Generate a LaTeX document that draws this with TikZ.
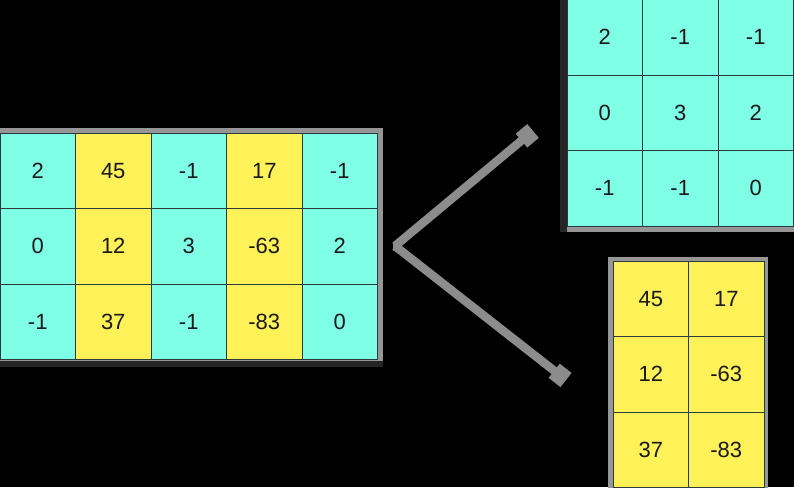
\documentclass[tikz,border=0pt]{standalone}
\usepackage{fontspec}
\setmainfont{Liberation Sans}
\usetikzlibrary{arrows.meta}
\definecolor{cyanc}{RGB}{127,255,230}
\definecolor{yellc}{RGB}{255,241,88}
\definecolor{gridl}{RGB}{40,60,60}
\definecolor{framec}{RGB}{150,150,150}
\definecolor{shadowc}{RGB}{38,38,38}
\definecolor{arrowc}{RGB}{140,140,140}
\definecolor{txtc}{RGB}{25,25,25}
\tikzset{
  cell/.style={draw=gridl, line width=1pt, minimum width=75.5pt, minimum height=75.5pt,
    inner sep=0pt, outer sep=0pt, text=txtc, font=\fontsize{22}{26}\selectfont},
  cyancell/.style={cell, fill=cyanc},
  yellcell/.style={cell, fill=yellc},
  link/.style={draw=arrowc, line width=8.5pt, line cap=butt, -{Square[length=15pt,width=18pt]}}
}
\begin{document}
\begin{tikzpicture}[x=1pt,y=-1pt]
\useasboundingbox[fill=black] (0,0) rectangle (794,487);
% frames
\fill[shadowc] (0,128) rectangle (383,367);
\fill[framec] (0,128) rectangle (383,361);
\fill[shadowc] (560,-5) rectangle (800,232);
\fill[framec] (567,-5) rectangle (800,232);
\fill[framec] (608,257) rectangle (768,495);
% left grid
\foreach \a/\b/\c/\d/\e [count=\j from 0] in {2/45/-1/17/-1, 0/12/3/-63/2, -1/37/-1/-83/0}{
  \node[cyancell] (L-\j-0) at (37.75, 133+37.75+75.5*\j) {\a};
  \node[yellcell] (L-\j-1) at (37.75+75.5, 133+37.75+75.5*\j) {\b};
  \node[cyancell] (L-\j-2) at (37.75+151, 133+37.75+75.5*\j) {\c};
  \node[yellcell] (L-\j-3) at (37.75+226.5, 133+37.75+75.5*\j) {\d};
  \node[cyancell] (L-\j-4) at (37.75+302, 133+37.75+75.5*\j) {\e};
}
% top right grid
\foreach \a/\b/\c [count=\j from 0] in {2/-1/-1, 0/3/2, -1/-1/0}{
  \node[cyancell] (T-\j-0) at (567+37.75, 37.75+75.5*\j-0.5) {\a};
  \node[cyancell] (T-\j-1) at (567+113.25, 37.75+75.5*\j-0.5) {\b};
  \node[cyancell] (T-\j-2) at (567+188.75, 37.75+75.5*\j-0.5) {\c};
}
% bottom grid
\foreach \a/\b [count=\j from 0] in {45/17, 12/-63, 37/-83}{
  \node[yellcell] (B-\j-0) at (613+37.75, 261+37.75+75.5*\j) {\a};
  \node[yellcell] (B-\j-1) at (613+113.25, 261+37.75+75.5*\j) {\b};
}
% connectors
\coordinate (apex) at (395,246);
\coordinate (upend) at (533,131);
\coordinate (downend) at (566,380);
\draw[link] (apex) -- (upend);
\draw[link] (apex) -- (downend);
\fill[arrowc] (apex) ++(-2,-4.5) rectangle ++(8,9);
\end{tikzpicture}
\end{document}
